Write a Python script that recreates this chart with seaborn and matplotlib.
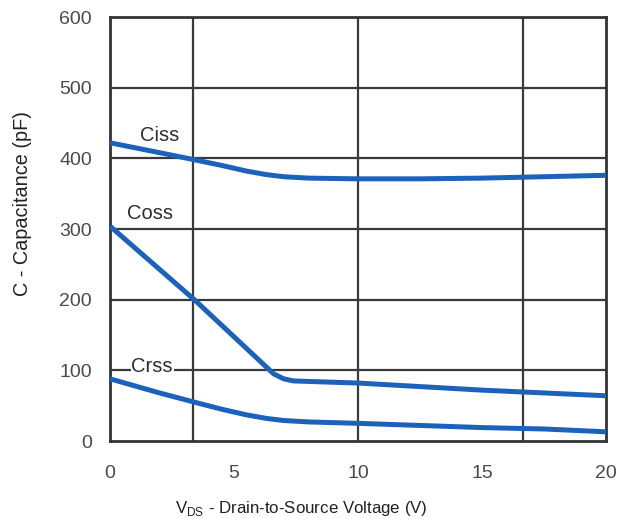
import matplotlib
matplotlib.use("Agg")
import matplotlib.pyplot as plt
import seaborn as sns
import pandas as pd

# ---- data ----
vds_ciss = [0, 1, 2, 3.4, 4.5, 5.5, 6.3, 7.0, 8.0, 10, 12.5, 15, 17.5, 20]
ciss = [422, 415, 408, 398, 390, 382, 377, 374, 372, 371, 371, 372, 374, 376]

vds_coss = [0, 3.4, 6.6, 7.0, 7.4, 10, 12.5, 15, 17.5, 20]
coss = [304, 200, 95, 88, 85, 82, 77, 72, 68, 64]

vds_crss = [0, 1, 2, 3.4, 4.5, 5.5, 6.3, 7.0, 8.0, 10, 12.5, 15, 17.5, 20]
crss = [88, 78, 68, 55, 45, 37, 32, 29, 27, 25, 22, 19, 17, 13]

x_ticks = [0, 5, 10, 15, 20]
y_ticks = [0, 100, 200, 300, 400, 500, 600]
x_grid = [10 / 3, 10, 50 / 3]

series_names = ["Ciss", "Coss", "Crss"]
label_pos = {"Ciss": (2.0, 432), "Coss": (1.6, 322), "Crss": (1.7, 105)}

df = pd.concat([
    pd.DataFrame({"VDS": vds_ciss, "C": ciss, "series": "Ciss"}),
    pd.DataFrame({"VDS": vds_coss, "C": coss, "series": "Coss"}),
    pd.DataFrame({"VDS": vds_crss, "C": crss, "series": "Crss"}),
], ignore_index=True)

sns.set_theme(style="white")
plt.rcParams["font.family"] = ["Liberation Sans", "DejaVu Sans"]

fig = plt.figure(figsize=(6.19, 5.19), dpi=100)
ax = fig.add_axes([110 / 619, 1 - 441 / 519, (606 - 110) / 619, (441 - 17) / 519])

grid_color = "#3a3a3a"
for yv in y_ticks[1:-1]:
    ax.axhline(yv, color=grid_color, lw=1.6, zorder=1)
for xv in x_grid:
    ax.axvline(xv, color=grid_color, lw=1.6, zorder=1)

line_color = "#1c62bb"
sns.lineplot(data=df, x="VDS", y="C", hue="series", hue_order=series_names,
             palette=[line_color] * 3, linewidth=3.6, legend=False,
             sort=True, estimator=None, ax=ax, zorder=3)
for ln in ax.lines[-3:]:
    ln.set_solid_joinstyle("round")
    ln.set_solid_capstyle("butt")

for name in series_names:
    xp, yp = label_pos[name]
    ax.text(xp, yp, name, fontsize=14.5, color="#2e2e2e", ha="center", va="center",
            zorder=4,
            bbox=dict(facecolor="white", edgecolor="none", pad=0.5) if name == "Crss" else None)

ax.set_xlim(0, 20)
ax.set_ylim(0, 600)
ax.set_xticks(x_ticks)
ax.set_yticks(y_ticks)
ax.tick_params(axis="both", length=0, labelsize=14, labelcolor="#4a4a4a")
ax.tick_params(axis="x", pad=17)
ax.tick_params(axis="y", pad=13)
for s in ax.spines.values():
    s.set_color("#333333")
    s.set_linewidth(2)
    s.set_visible(True)
ax.set_xlabel("")
ax.set_ylabel("")

fig.text(301 / 619, 1 - 508 / 519, r"V$_{\mathregular{DS}}$ - Drain-to-Source Voltage (V)",
         fontsize=12.2, color="#222222", ha="center", va="center")
fig.text(22 / 619, 1 - 203 / 519, "C - Capacitance (pF)", fontsize=14.3, color="#222222",
         ha="center", va="center", rotation=90)

fig.savefig("out.png", dpi=100, facecolor="white")
